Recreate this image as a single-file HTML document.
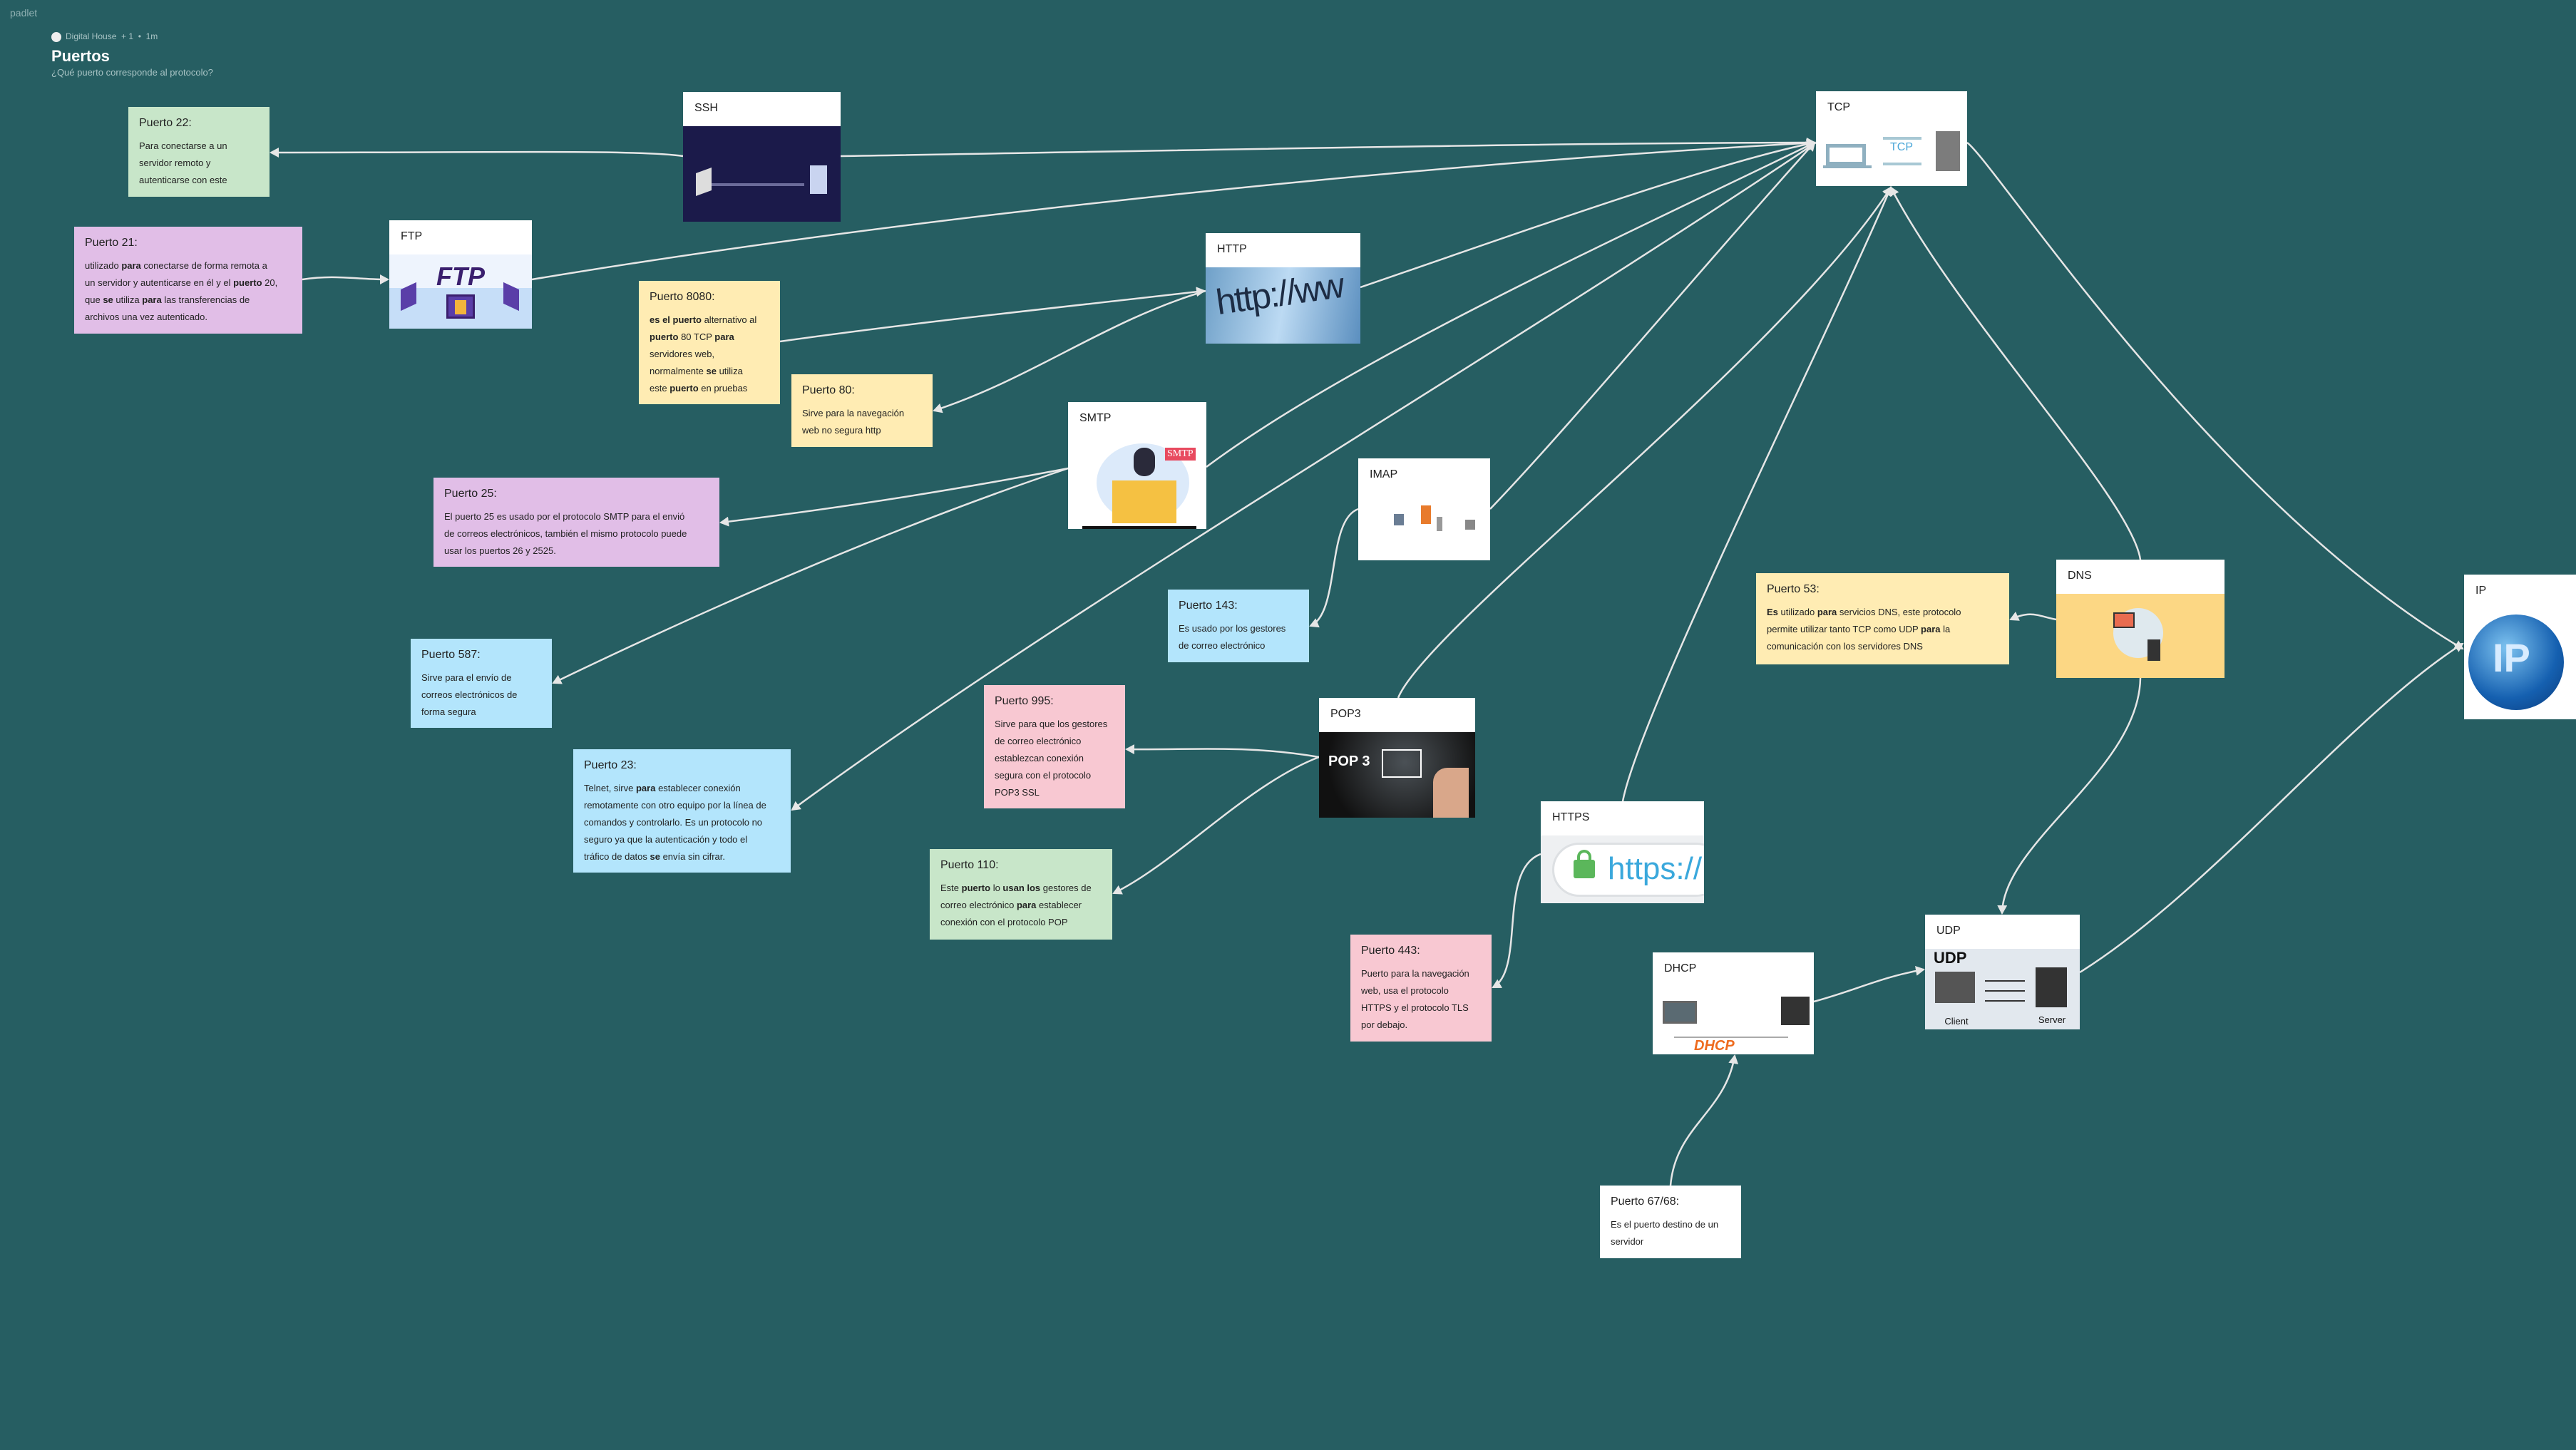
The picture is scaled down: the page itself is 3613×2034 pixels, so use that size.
<!DOCTYPE html>
<html><head><meta charset="utf-8"><style>
*{margin:0;padding:0;box-sizing:border-box}
body{width:3613px;height:2034px;background:#265e62;position:relative;overflow:hidden;font-family:"Liberation Sans",sans-serif}
.n{position:absolute;padding:13px 15px;color:#222}
.n h3{font-size:16px;font-weight:normal;line-height:20px;margin-bottom:10px}
.n p{font-size:13px;line-height:24px;white-space:nowrap}
.c{position:absolute;background:#fff;overflow:hidden}
.c .h{height:48px;padding:14px 16px;font-size:16px;color:#222}
.c .i{position:absolute;left:0;right:0;top:48px;bottom:0;overflow:hidden}
.g{background:#c8e6c9}.p{background:#e1bee7}.y{background:#ffecb3}.b{background:#b3e5fc}.k{background:#f8c8d2}.w{background:#fff}
svg.l{position:absolute;left:0;top:0}
</style></head><body>
<div style="position:absolute;left:14px;top:10px;font-size:14px;color:#8fb0b2">padlet</div>
<div style="position:absolute;left:72px;top:44px;font-size:12px;color:#a9c4c5"><span style="display:inline-block;width:14px;height:14px;border-radius:7px;background:#eee;vertical-align:middle;margin-right:6px"></span>Digital House &nbsp;+ 1 &nbsp;• &nbsp;1m</div>
<div style="position:absolute;left:72px;top:66px;font-size:22px;font-weight:bold;color:#fff">Puertos</div>
<div style="position:absolute;left:72px;top:94px;font-size:13px;color:#a9c4c5">¿Qué puerto corresponde al protocolo?</div>

<svg class="l" width="3613" height="2034">
<defs><marker id="a" markerWidth="14" markerHeight="14" refX="11" refY="7" orient="auto" markerUnits="userSpaceOnUse"><path d="M0,0 L13,7 L0,14 z" fill="#e6e6e6"/></marker></defs>
<g fill="none" stroke="#e6e6e6" stroke-width="2.5" marker-end="url(#a)">
<path d="M958,219 C900,210 700,214 380,214"/>
<path d="M1179,219 C1600,212 2200,200 2545,200"/>
<path d="M424,392 C470,385 500,392 544,392"/>
<path d="M746,392 C1300,300 2000,230 2545,200"/>
<path d="M1094,479 C1300,450 1500,430 1689,408"/>
<path d="M1691,408 C1550,450 1450,530 1310,576"/>
<path d="M1908,403 C2150,320 2400,230 2545,200"/>
<path d="M1498,657 C1350,685 1200,710 1011,733"/>
<path d="M1498,657 C1250,740 1000,850 776,958"/>
<path d="M1692,655 C1900,500 2300,320 2545,200"/>
<path d="M1905,714 C1860,730 1880,860 1838,878"/>
<path d="M2090,714 C2200,600 2400,360 2545,200"/>
<path d="M1850,1062 C1750,1045 1680,1052 1580,1051"/>
<path d="M1850,1062 C1750,1100 1650,1210 1562,1253"/>
<path d="M1961,979 C2000,880 2500,500 2652,263"/>
<path d="M2547,200 C2100,500 1500,850 1111,1136"/>
<path d="M2276,1124 C2300,1000 2550,500 2652,263"/>
<path d="M2161,1198 C2100,1220 2140,1360 2094,1385"/>
<path d="M3002,785 C2990,700 2750,450 2652,263"/>
<path d="M2884,869 C2860,865 2850,855 2820,869"/>
<path d="M3002,951 C3000,1080 2810,1180 2808,1281"/>
<path d="M2759,200 C2800,230 3100,700 3454,910"/>
<path d="M2917,1364 C3100,1250 3300,1000 3454,903"/>
<path d="M2544,1405 C2600,1390 2640,1370 2698,1360"/>
<path d="M2343,1663 C2350,1580 2420,1560 2433,1481"/>
</g></svg>

<div class="n g" style="left:180px;top:150px;width:198px;height:126px"><h3>Puerto 22:</h3><p>Para conectarse a un<br>servidor remoto y<br>autenticarse con este</p></div>
<div class="n p" style="left:104px;top:318px;width:320px;height:150px"><h3>Puerto 21:</h3><p>utilizado <b>para</b> conectarse de forma remota a<br>un servidor y autenticarse en él y el <b>puerto</b> 20,<br>que <b>se</b> utiliza <b>para</b> las transferencias de<br>archivos una vez autenticado.</p></div>
<div class="n y" style="left:896px;top:394px;width:198px;height:173px"><h3>Puerto 8080:</h3><p><b>es el puerto</b> alternativo al<br><b>puerto</b> 80 TCP <b>para</b><br>servidores web,<br>normalmente <b>se</b> utiliza<br>este <b>puerto</b> en pruebas</p></div>
<div class="n y" style="left:1110px;top:525px;width:198px;height:102px"><h3>Puerto 80:</h3><p>Sirve para la navegación<br>web no segura http</p></div>
<div class="n p" style="left:608px;top:670px;width:401px;height:125px"><h3>Puerto 25:</h3><p>El puerto 25 es usado por el protocolo SMTP para el envió<br>de correos electrónicos, también el mismo protocolo puede<br>usar los puertos 26 y 2525.</p></div>
<div class="n b" style="left:1638px;top:827px;width:198px;height:102px"><h3>Puerto 143:</h3><p>Es usado por los gestores<br>de correo electrónico</p></div>
<div class="n b" style="left:576px;top:896px;width:198px;height:125px"><h3>Puerto 587:</h3><p>Sirve para el envío de<br>correos electrónicos de<br>forma segura</p></div>
<div class="n k" style="left:1380px;top:961px;width:198px;height:173px"><h3>Puerto 995:</h3><p>Sirve para que los gestores<br>de correo electrónico<br>establezcan conexión<br>segura con el protocolo<br>POP3 SSL</p></div>
<div class="n b" style="left:804px;top:1051px;width:305px;height:173px"><h3>Puerto 23:</h3><p>Telnet, sirve <b>para</b> establecer conexión<br>remotamente con otro equipo por la línea de<br>comandos y controlarlo. Es un protocolo no<br>seguro ya que la autenticación y todo el<br>tráfico de datos <b>se</b> envía sin cifrar.</p></div>
<div class="n g" style="left:1304px;top:1191px;width:256px;height:127px"><h3>Puerto 110:</h3><p>Este <b>puerto</b> lo <b>usan los</b> gestores de<br>correo electrónico <b>para</b> establecer<br>conexión con el protocolo POP</p></div>
<div class="n k" style="left:1894px;top:1311px;width:198px;height:150px"><h3>Puerto 443:</h3><p>Puerto para la navegación<br>web, usa el protocolo<br>HTTPS y el protocolo TLS<br>por debajo.</p></div>
<div class="n w" style="left:2244px;top:1663px;width:198px;height:102px"><h3>Puerto 67/68:</h3><p>Es el puerto destino de un<br>servidor</p></div>
<div class="n y" style="left:2463px;top:804px;width:355px;height:128px"><h3>Puerto 53:</h3><p><b>Es</b> utilizado <b>para</b> servicios DNS, este protocolo<br>permite utilizar tanto TCP como UDP <b>para</b> la<br>comunicación con los servidores DNS</p></div>

<div class="c" style="left:958px;top:129px;width:221px;height:182px"><div class="h">SSH</div><div class="i" style="background:#1b1a4a">
<div style="position:absolute;left:18px;top:62px;width:22px;height:32px;background:#ddd;transform:skewY(-20deg)"></div>
<div style="position:absolute;left:40px;top:80px;width:130px;height:4px;background:#6b6b9a"></div>
<div style="position:absolute;left:178px;top:55px;width:24px;height:40px;background:#c9d4f0"></div></div></div>

<div class="c" style="left:546px;top:309px;width:200px;height:152px"><div class="h">FTP</div><div class="i" style="background:linear-gradient(#eef4fd 45%,#c6def8 45%)">
<div style="position:absolute;left:66px;top:10px;font-size:36px;font-weight:bold;font-style:italic;color:#3a1f6e">FTP</div>
<div style="position:absolute;left:80px;top:56px;width:40px;height:34px;background:#5a3ea8;border:3px solid #3a1f6e"></div>
<div style="position:absolute;left:92px;top:64px;width:16px;height:20px;background:#f3b43c"></div>
<div style="position:absolute;left:16px;top:44px;width:22px;height:30px;background:#5a3ea8;transform:skewY(-25deg)"></div>
<div style="position:absolute;left:160px;top:44px;width:22px;height:30px;background:#5a3ea8;transform:skewY(25deg)"></div></div></div>

<div class="c" style="left:1691px;top:327px;width:217px;height:155px"><div class="h">HTTP</div><div class="i" style="background:linear-gradient(100deg,#6fa0c8,#bcdaf3 50%,#5b8fbf)">
<div style="position:absolute;left:14px;top:8px;font-size:50px;color:#1d2c44;transform:rotate(-8deg);letter-spacing:-2px">http://ww</div></div></div>

<div class="c" style="left:1498px;top:564px;width:194px;height:178px"><div class="h">SMTP</div><div class="i" style="background:#fff">
<div style="position:absolute;left:40px;top:10px;width:130px;height:110px;border-radius:50%;background:#dceafa"></div>
<div style="position:absolute;left:62px;top:62px;width:90px;height:60px;background:#f5c142"></div>
<div style="position:absolute;left:92px;top:16px;width:30px;height:40px;border-radius:14px;background:#2a2a3a"></div>
<div style="position:absolute;left:136px;top:16px;padding:1px 3px;background:#e84a5f;color:#fff;font-size:14px;font-family:'Liberation Serif',serif">SMTP</div>
<div style="position:absolute;left:20px;top:126px;width:160px;height:4px;background:#111"></div></div></div>

<div class="c" style="left:1905px;top:643px;width:185px;height:143px"><div class="h">IMAP</div><div class="i" style="background:#fff">
<div style="position:absolute;left:88px;top:18px;width:14px;height:26px;background:#e87b2c"></div>
<div style="position:absolute;left:50px;top:30px;width:14px;height:16px;background:#6a7d94"></div>
<div style="position:absolute;left:150px;top:38px;width:14px;height:14px;background:#888"></div>
<div style="position:absolute;left:110px;top:34px;width:8px;height:20px;background:#999"></div></div></div>

<div class="c" style="left:1850px;top:979px;width:219px;height:168px"><div class="h">POP3</div><div class="i" style="background:radial-gradient(circle at 55% 35%,#4b5156,#111 75%)">
<div style="position:absolute;left:13px;top:30px;font-size:20px;font-weight:bold;color:#fff">POP 3</div>
<div style="position:absolute;left:88px;top:24px;width:56px;height:40px;border:2px solid #fff"></div>
<div style="position:absolute;left:160px;top:50px;width:50px;height:70px;background:#d9a78a;border-radius:20px 0 0 0"></div></div></div>

<div class="c" style="left:2161px;top:1124px;width:229px;height:143px"><div class="h">HTTPS</div><div class="i" style="background:#eef0f2">
<div style="position:absolute;left:16px;top:10px;width:240px;height:76px;border-radius:38px;background:#fff;border:3px solid #dde0e3"></div>
<div style="position:absolute;left:46px;top:34px;width:30px;height:26px;background:#5bb75b;border-radius:3px"></div>
<div style="position:absolute;left:51px;top:20px;width:20px;height:20px;border:4px solid #5bb75b;border-radius:10px 10px 0 0;border-bottom:none"></div>
<div style="position:absolute;left:94px;top:22px;font-size:44px;color:#3aa8dc">https://</div></div></div>

<div class="c" style="left:2318px;top:1336px;width:226px;height:143px"><div class="h">DHCP</div><div class="i" style="background:#fff">
<div style="position:absolute;left:14px;top:20px;width:48px;height:32px;background:#5a6a72;border:3px solid #666"></div>
<div style="position:absolute;left:180px;top:14px;width:40px;height:40px;background:#333"></div>
<div style="position:absolute;left:30px;top:70px;width:160px;height:2px;background:#aaa"></div>
<div style="position:absolute;left:58px;top:72px;font-size:20px;font-weight:bold;font-style:italic;color:#ee6b1e">DHCP</div></div></div>

<div class="c" style="left:2700px;top:1283px;width:217px;height:161px"><div class="h">UDP</div><div class="i" style="background:#e2e8ee">
<div style="position:absolute;left:12px;top:0;font-size:22px;font-weight:bold;color:#111">UDP</div>
<div style="position:absolute;left:14px;top:32px;width:56px;height:44px;background:#555"></div>
<div style="position:absolute;left:155px;top:26px;width:44px;height:56px;background:#333"></div>
<div style="position:absolute;left:14px;top:94px;width:60px;font-size:13px;text-align:center;color:#111">Client</div>
<div style="position:absolute;left:148px;top:92px;width:60px;font-size:13px;text-align:center;color:#111">Server</div>
<div style="position:absolute;left:84px;top:44px;width:56px;height:2px;background:#333;box-shadow:0 14px 0 #333,0 28px 0 #333"></div></div></div>

<div class="c" style="left:2547px;top:128px;width:212px;height:133px"><div class="h">TCP</div><div class="i" style="background:#fff">
<div style="position:absolute;left:14px;top:26px;width:56px;height:30px;border:5px solid #8fb0c0"></div>
<div style="position:absolute;left:10px;top:56px;width:68px;height:4px;background:#8fb0c0"></div>
<div style="position:absolute;left:94px;top:16px;width:54px;height:4px;background:#a8c8d4;box-shadow:0 36px 0 #a8c8d4"></div>
<div style="position:absolute;left:104px;top:22px;font-size:16px;color:#4aa6d8">TCP</div>
<div style="position:absolute;left:168px;top:8px;width:34px;height:56px;background:#7c7c7c"></div></div></div>

<div class="c" style="left:2884px;top:785px;width:236px;height:166px"><div class="h">DNS</div><div class="i" style="background:#fcd784">
<div style="position:absolute;left:80px;top:20px;width:70px;height:70px;border-radius:50%;background:#dfe9ee"></div>
<div style="position:absolute;left:80px;top:26px;width:30px;height:22px;background:#e96c50;border:2px solid #333"></div>
<div style="position:absolute;left:128px;top:64px;width:18px;height:30px;background:#333"></div></div></div>

<div class="c" style="left:3456px;top:806px;width:157px;height:203px"><div class="h">IP</div><div class="i" style="background:#fff">
<div style="position:absolute;left:6px;top:8px;width:134px;height:134px;border-radius:50%;background:radial-gradient(circle at 40% 35%,#7ec3f0,#1560b0 60%,#0a3a7a)"></div>
<div style="position:absolute;left:40px;top:36px;font-size:56px;font-weight:bold;color:#d8ecff">IP</div></div></div>
</body></html>
